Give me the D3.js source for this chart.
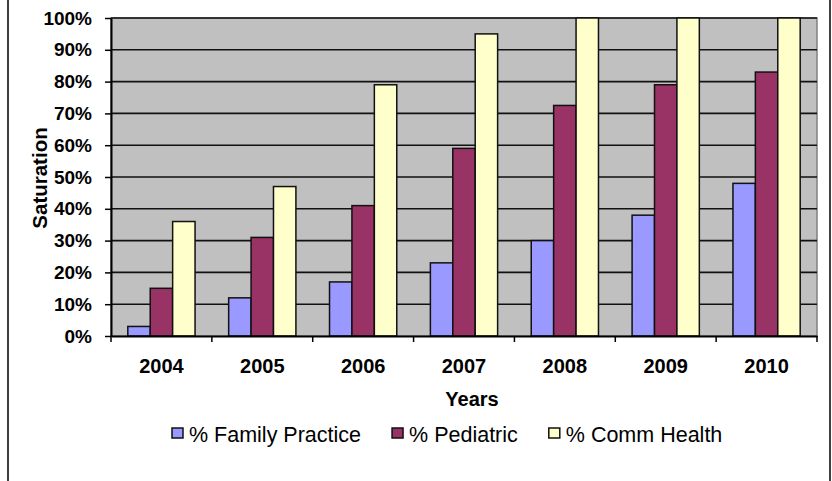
<!DOCTYPE html>
<html>
<head>
<meta charset="utf-8">
<script src="https://cdn.jsdelivr.net/npm/d3@7"></script>
<style>
  body { margin: 0; background: #fff; }
  svg text { font-family: Arial, "Liberation Sans", sans-serif; }
</style>
</head>
<body>
<div id="display"></div>
<script>
// data
const years = ['2004', '2005', '2006', '2007', '2008', '2009', '2010'];
const seriesNames = ['% Family Practice', '% Pediatric', '% Comm Health'];
const familyPractice = [0.03, 0.12, 0.17, 0.23, 0.30, 0.38, 0.48];
const pediatric = [0.15, 0.31, 0.41, 0.59, 0.725, 0.79, 0.83];
const commHealth = [0.36, 0.47, 0.79, 0.95, 1.00, 1.00, 1.00];
const yTicks = [0, 0.1, 0.2, 0.3, 0.4, 0.5, 0.6, 0.7, 0.8, 0.9, 1.0];

const colors = ['#9999FF', '#993366', '#FFFFCC'];
const values = [familyPractice, pediatric, commHealth];

const svg = d3.select('#display')
  .append('svg')
  .attr('width', 832)
  .attr('height', 481);

// outer chart border
svg.append('rect')
  .attr('x', 8).attr('y', -10)
  .attr('width', 822).attr('height', 500)
  .attr('fill', 'white')
  .attr('stroke', 'black')
  .attr('stroke-width', 1.5);

const plotLeft = 111, plotRight = 817, plotTop = 18, plotBottom = 336;

const x = d3.scaleBand().domain(years).range([plotLeft, plotRight]).padding(0);
const xs = d3.scaleBand().domain(seriesNames).range([0, x.bandwidth()])
  .paddingInner(0).paddingOuter(0.75);
const y = d3.scaleLinear().domain([0, 1]).range([plotBottom, plotTop]);

// plot area
svg.append('rect')
  .attr('x', plotLeft).attr('y', plotTop)
  .attr('width', plotRight - plotLeft).attr('height', plotBottom - plotTop)
  .attr('fill', '#C0C0C0')
  .attr('stroke', '#808080')
  .attr('stroke-width', 1.5);

// gridlines
svg.append('g')
  .selectAll('line')
  .data(yTicks.filter(d => d > 0))
  .join('line')
  .attr('x1', plotLeft).attr('x2', plotRight)
  .attr('y1', d => y(d)).attr('y2', d => y(d))
  .attr('stroke', '#111')
  .attr('stroke-width', 1.6);

// bars
const groups = svg.append('g')
  .selectAll('g')
  .data(years)
  .join('g')
  .attr('transform', d => `translate(${x(d)},0)`);

groups.selectAll('rect')
  .data((d, i) => seriesNames.map((s, k) => ({ s: s, k: k, v: values[k][i] })))
  .join('rect')
  .attr('x', d => xs(d.s))
  .attr('y', d => y(d.v))
  .attr('width', xs.bandwidth())
  .attr('height', d => plotBottom - y(d.v))
  .attr('fill', d => colors[d.k])
  .attr('stroke', '#111')
  .attr('stroke-width', 1.5);

// y axis
const yAxis = svg.append('g')
  .attr('transform', `translate(${plotLeft},0)`)
  .call(d3.axisLeft(y).tickValues(yTicks).tickFormat(d3.format('.0%'))
    .tickSizeInner(6).tickSizeOuter(0).tickPadding(13));
yAxis.select('.domain').attr('stroke', 'black').attr('stroke-width', 2);
yAxis.selectAll('.tick line').attr('stroke', 'black').attr('stroke-width', 1.5);
yAxis.selectAll('.tick text')
  .attr('font-size', '19px')
  .attr('font-weight', 'bold')
  .attr('fill', 'black')
  .attr('font-family', 'Arial, "Liberation Sans", sans-serif');

// x axis
const xAxis = svg.append('g')
  .attr('transform', `translate(0,${plotBottom})`)
  .call(d3.axisBottom(x).tickSize(0).tickPadding(23));
xAxis.select('.domain').attr('stroke', 'black').attr('stroke-width', 2);
xAxis.selectAll('.tick text')
  .attr('font-size', '20px')
  .attr('font-weight', 'bold')
  .attr('fill', 'black')
  .attr('font-family', 'Arial, "Liberation Sans", sans-serif');

// category boundary ticks
svg.append('g')
  .selectAll('line')
  .data(years.map(d => x(d)).concat([plotRight]))
  .join('line')
  .attr('x1', d => d).attr('x2', d => d)
  .attr('y1', plotBottom).attr('y2', plotBottom + 6)
  .attr('stroke', 'black')
  .attr('stroke-width', 1.5);

// axis titles
svg.append('text')
  .attr('transform', 'translate(47,178) rotate(-90)')
  .attr('text-anchor', 'middle')
  .attr('font-size', '20.5px')
  .attr('font-weight', 'bold')
  .text('Saturation');

svg.append('text')
  .attr('x', 472).attr('y', 406)
  .attr('text-anchor', 'middle')
  .attr('font-size', '20px')
  .attr('font-weight', 'bold')
  .text('Years');

// legend
const legend = svg.append('g');
let lx = 172;
seriesNames.forEach((name, k) => {
  legend.append('rect')
    .attr('x', lx).attr('y', 428)
    .attr('width', 11).attr('height', 10)
    .attr('fill', colors[k])
    .attr('stroke', '#111')
    .attr('stroke-width', 1.5);
  const t = legend.append('text')
    .attr('x', lx + 17).attr('y', 442)
    .attr('font-size', '21.5px')
    .text(name);
  lx += 17 + t.node().getComputedTextLength() + 31;
});
</script>
</body>
</html>
